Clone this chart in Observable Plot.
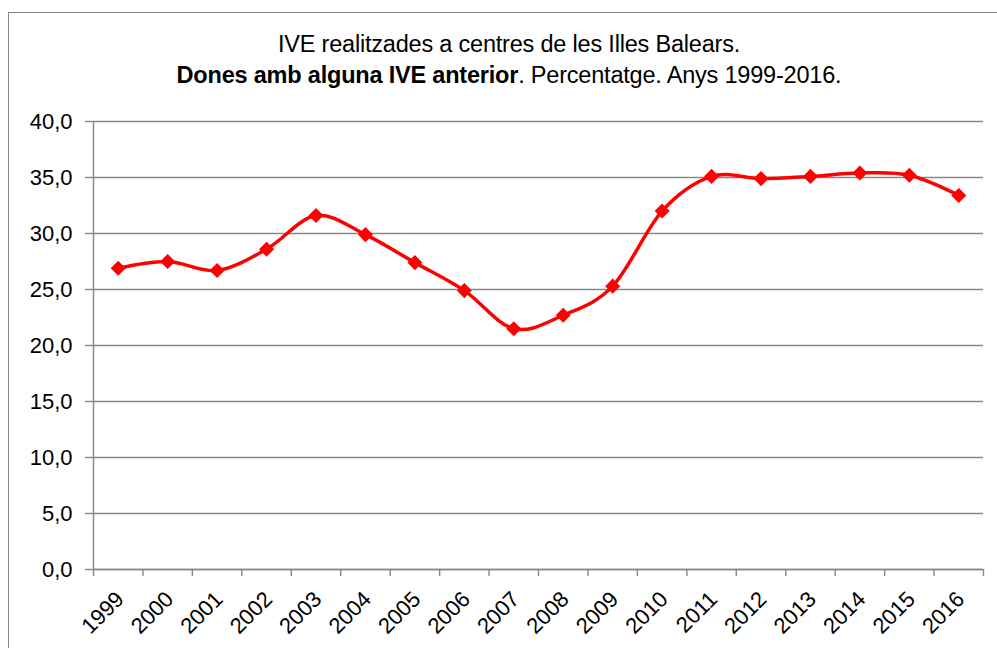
<!DOCTYPE html>
<html>
<head>
<meta charset="utf-8">
<script src="https://cdn.jsdelivr.net/npm/d3@7"></script>
<script src="https://cdn.jsdelivr.net/npm/@observablehq/plot@0.6"></script>
<style>
  html, body { margin: 0; padding: 0; background: #fff; }
  body { width: 997px; height: 648px; overflow: hidden; position: relative; font-family: "Liberation Sans", Arial, sans-serif; }
  #frame { position: absolute; left: 8px; top: 12px; width: 1100px; height: 800px; border: 1.5px solid #888; box-sizing: border-box; }
  #title { position: absolute; left: 0; top: 29px; width: 1018px; text-align: center; font-size: 23.5px; line-height: 31px; color: #000; letter-spacing: -0.2px; }
  #chart { position: absolute; left: 0; top: 0; }
</style>
</head>
<body>
<div id="frame"></div>
<div id="title">IVE realitzades a centres de les Illes Balears.<br><b>Dones amb alguna IVE anterior</b>. Percentatge. Anys 1999-2016.</div>
<div id="chart"></div>
<script>
const years = [1999, 2000, 2001, 2002, 2003, 2004, 2005, 2006, 2007, 2008, 2009, 2010, 2011, 2012, 2013, 2014, 2015, 2016];
const values = [26.9, 27.5, 26.7, 28.6, 31.6, 29.9, 27.4, 24.9, 21.5, 22.7, 25.3, 32.0, 35.1, 34.9, 35.1, 35.4, 35.2, 33.4];
const yTicks = [0, 5, 10, 15, 20, 25, 30, 35, 40];

const data = years.map((y, i) => ({year: y, value: values[i]}));
const bounds = [...years.map(y => y - 0.5), years[years.length - 1] + 0.5];
const gray = "#878787";

const chart = Plot.plot({
  width: 997,
  height: 648,
  marginTop: 121,
  marginLeft: 93,
  marginRight: 14,
  marginBottom: 79,
  style: {background: "transparent", fontFamily: "'Liberation Sans', Arial, sans-serif", color: "#000"},
  x: {type: "linear", domain: [bounds[0], bounds[bounds.length - 1]]},
  y: {domain: [0, 40]},
  marks: [
    Plot.gridY(yTicks, {stroke: gray, strokeOpacity: 1, strokeWidth: 1.4}),
    Plot.axisY({ticks: yTicks, tickSize: 8, tickPadding: 13, fontSize: 22, stroke: gray, strokeWidth: 1.4, strokeOpacity: 1,
      tickFormat: d => d3.format(".1f")(d).replace(".", ","), label: null}),
    Plot.ruleX([bounds[0]], {stroke: gray, strokeWidth: 1.4}),
    Plot.ruleY([0], {stroke: gray, strokeWidth: 1.4}),
    Plot.axisX({ticks: bounds, tickSize: 7, tickFormat: () => "", stroke: gray, strokeWidth: 1.4, strokeOpacity: 1, label: null}),
    Plot.axisX({ticks: years, tickSize: 0, tickPadding: 26, tickRotate: -45, fontSize: 22, dx: 2, tickFormat: d => String(d), label: null}),
    Plot.line(data, {x: "year", y: "value", curve: "cardinal", stroke: "#ff0000", strokeWidth: 3.5}),
    Plot.dot(data, {x: "year", y: "value", symbol: "diamond2", fill: "#ff0000", stroke: "#ff0000", strokeWidth: 2, r: 5.5})
  ]
});
document.getElementById("chart").appendChild(chart);
</script>
</body>
</html>
